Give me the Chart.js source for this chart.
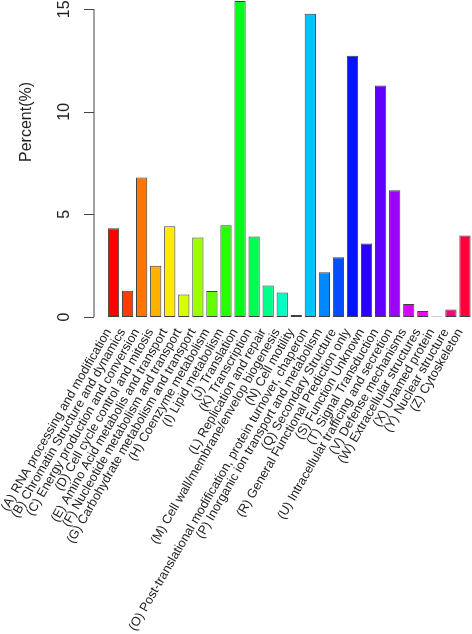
<!DOCTYPE html>
<html>
<head>
<meta charset="utf-8">
<script src="https://cdn.jsdelivr.net/npm/chart.js@4"></script>
<style>
  body { margin:0; background:#fff; }
  canvas { display:block; }
</style>
</head>
<body>
<canvas id="cog_chart" width="472" height="634"></canvas>
<script>
const categories = [
    "(A) RNA processing and modification",
    "(B) Chromatin Structure and dynamics",
    "(C) Energy production and conversion",
    "(D) Cell cycle control and mitosis",
    "(E) Amino Acid metabolis and transport",
    "(F) Nucleotide metabolism and transport",
    "(G) Carbohydrate metabolism and transport",
    "(H) Coenzyme metabolism",
    "(I) Lipid metabolism",
    "(J) Translation",
    "(K) Transcription",
    "(L) Replication and repair",
    "(M) Cell wall/membrane/envelop biogenesis",
    "(N) Cell motility",
    "(O) Post-translational modification, protein turnover, chaperon",
    "(P) Inorganic ion transport and metabolism",
    "(Q) Secondary Structure",
    "(R) General Functional Prediction only",
    "(S) Function Unknown",
    "(T) Signal Transduction",
    "(U) Intracellular trafficing and secretion",
    "(V) Defense mechanisms",
    "(W) Extracellular structures",
    "(X) Unamed protein",
    "(Y) Nuclear structure",
    "(Z) Cytoskeleton"
];
const percents = [4.33, 1.28, 6.8, 2.5, 4.42, 1.1, 3.87, 1.27, 4.47, 15.4, 3.92, 1.53, 1.2, 0.1,
                  14.78, 2.18, 2.91, 12.73, 3.58, 11.28, 6.18, 0.63, 0.29, 0.02, 0.37, 3.97];
const yTicks = [0, 5, 10, 15];
const yTitle = "Percent(%)";

// R rainbow() palette
let barColors = new Array();
for(let i=0; i<categories.length; i++) {
    barColors.push("hsl(" + (i*360/categories.length) + ",100%,50%)");
}

// R style y axis: line from first to last tick, vertical labels
const rAxis = {
    id:"rAxis",
    afterDraw:function(chart) {
        let ctx = chart.ctx;
        let y = chart.scales.y;
        let x0 = chart.chartArea.left - 12.5;
        ctx.save();
        ctx.strokeStyle = "#444";
        ctx.lineWidth = 1;
        ctx.beginPath();
        ctx.moveTo(x0, y.getPixelForValue(yTicks[0]));
        ctx.lineTo(x0, y.getPixelForValue(yTicks[yTicks.length-1]));
        for(let i=0; i<yTicks.length; i++) {
            let py = Math.round(y.getPixelForValue(yTicks[i])) + 0.5;
            ctx.moveTo(x0, py);
            ctx.lineTo(x0-10, py);
        }
        ctx.stroke();

        ctx.fillStyle = "#222";
        ctx.font = "16px 'Liberation Sans', Arial, sans-serif";
        ctx.textAlign = "center";
        ctx.textBaseline = "middle";
        for(let i=0; i<yTicks.length; i++) {
            ctx.save();
            ctx.translate(x0-29, y.getPixelForValue(yTicks[i]));
            ctx.rotate(-Math.PI/2);
            ctx.fillText(String(yTicks[i]), 0, 0);
            ctx.restore();
        }
        ctx.translate(27, 122);
        ctx.rotate(-Math.PI/2);
        ctx.fillText(yTitle, 0, 0);
        ctx.restore();
    }
};

let cogChart = new Chart(document.getElementById("cog_chart"), {
    type:"bar",
    plugins:[rAxis],
    data:{
        labels:categories,
        datasets:[{
            label:"Percent",
            data:percents,
            backgroundColor:barColors,
            borderColor:"rgba(30,30,30,0.85)",
            borderWidth:1,
            borderSkipped:false,
            categoryPercentage:1,
            barPercentage:0.8
        }]
    },
    options:{
        responsive:false,
        animation:false,
        layout:{ padding:{ left:106.5, right:0, top:0, bottom:0 } },
        plugins:{ legend:{ display:false }, tooltip:{ enabled:false } },
        scales:{
            x:{
                offset:true,
                grid:{ display:false },
                border:{ display:false },
                ticks:{
                    autoSkip:false,
                    minRotation:60,
                    maxRotation:60,
                    padding:1,
                    labelOffset:-5,
                    color:"#222",
                    font:{ family:"'Liberation Sans', Arial, sans-serif", size:12.7 }
                },
                afterFit:function(scale) {
                    scale.height = 317;
                    scale.paddingLeft = 0;
                    scale.paddingRight = 0;
                }
            },
            y:{
                display:false,
                min:0,
                max:15.45
            }
        }
    }
});
</script>
</body>
</html>
